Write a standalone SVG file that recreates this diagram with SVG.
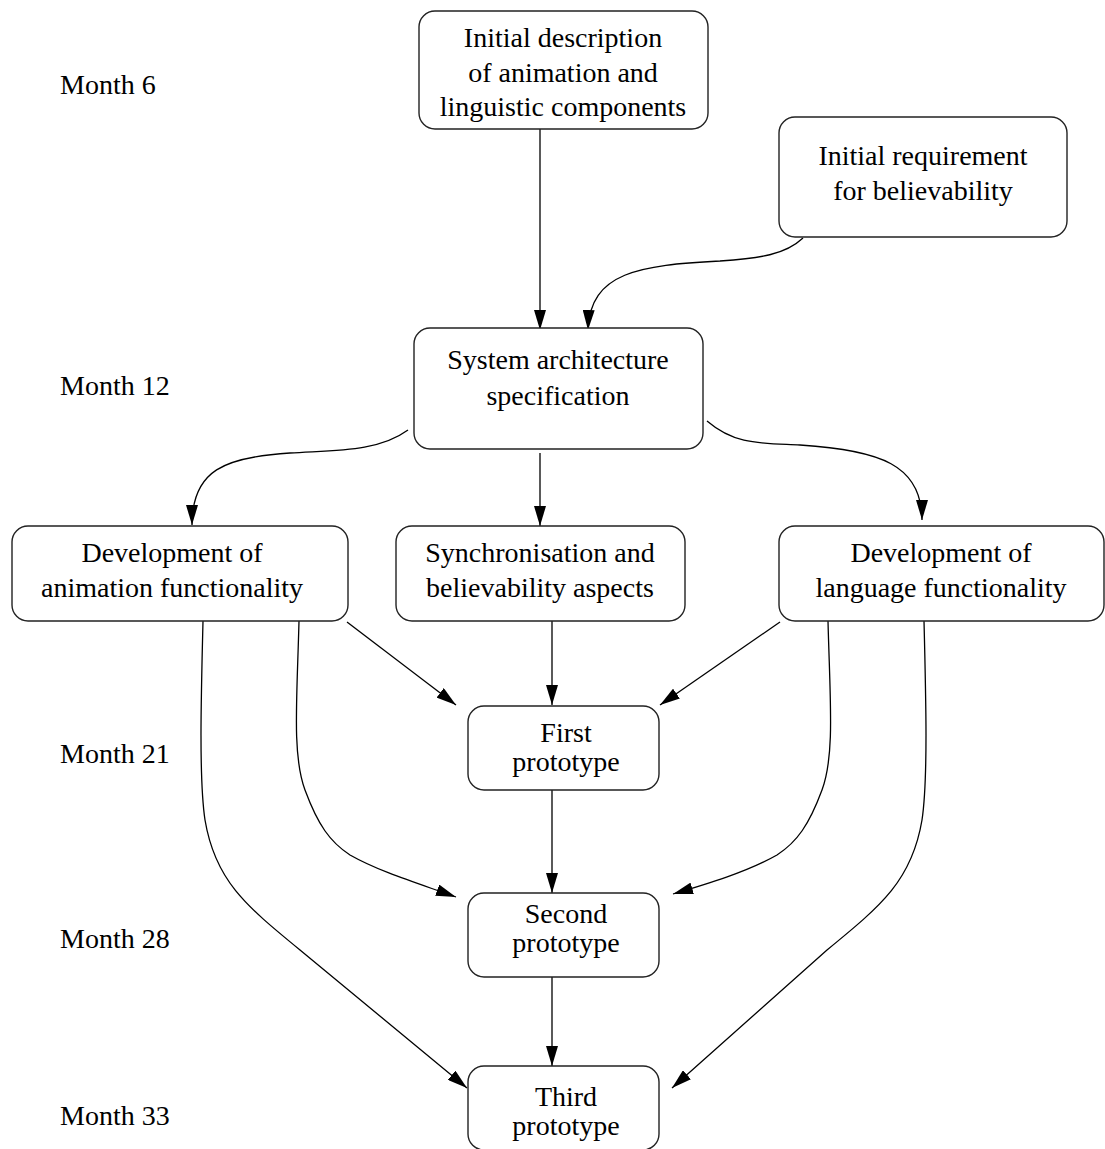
<svg xmlns="http://www.w3.org/2000/svg" width="1105" height="1149" viewBox="0 0 1105 1149">
<defs>
<marker id="ah" markerWidth="20" markerHeight="12" viewBox="0 0 20 12" refX="20" refY="6" orient="auto" markerUnits="userSpaceOnUse">
<path d="M0,0 L20,6 L0,12 Z" fill="#000"/>
</marker>
</defs>
<style>
.box{fill:#fff;stroke:#222;stroke-width:1.4}
.t{font-family:"Liberation Serif","Times New Roman",serif;font-size:28px;fill:#000;text-anchor:middle}
.m{font-family:"Liberation Serif","Times New Roman",serif;font-size:28px;fill:#000}
.c{fill:none;stroke:#000;stroke-width:1.3;marker-end:url(#ah)}
</style>
<rect width="1105" height="1149" fill="#fff"/>
<g id="months">
<text class="m" x="60" y="94">Month 6</text>
<text class="m" x="60" y="395">Month 12</text>
<text class="m" x="60" y="763">Month 21</text>
<text class="m" x="60" y="948">Month 28</text>
<text class="m" x="60" y="1125">Month 33</text>
</g>
<g id="connectors">
<path class="c" d="M540,129 L540,330"/>
<path class="c" d="M803,238 C785,255 760,258 720,261 C640,265 590,272 588,330"/>
<path class="c" d="M408,430 C378,452 335,450 290,453 C225,457 192,470 192,525"/>
<path class="c" d="M540,453 L540,526"/>
<path class="c" d="M707,421 C735,445 760,443 800,445 C880,450 922,465 922,520"/>
<path class="c" d="M347,622 L456,705"/>
<path class="c" d="M552,621 L552,705"/>
<path class="c" d="M780,622 L660,705"/>
<path class="c" d="M552,790 L552,893"/>
<path class="c" d="M299,621 C297,700 292,755 305,790 C318,825 330,842 350,855 C380,872 420,884 456,897"/>
<path class="c" d="M828,621 C830,700 835,755 822,790 C809,825 797,842 777,855 C747,872 707,884 673,894"/>
<path class="c" d="M203,621 C201,700 199,780 205,820 C215,880 245,905 300,950 L467,1088"/>
<path class="c" d="M924,621 C926,700 928,780 922,820 C912,880 882,905 827,950 L672,1088"/>
<path class="c" d="M552,977 L552,1066"/>
</g>
<g id="n1"><rect class="box" x="419" y="11" width="289" height="118" rx="16"/>
<text class="t" x="563" y="47">Initial description</text><text class="t" x="563" y="82">of animation and</text><text class="t" x="563" y="116">linguistic components</text></g>
<g id="n2"><rect class="box" x="779" y="117" width="288" height="120" rx="16"/>
<text class="t" x="923" y="165">Initial requirement</text><text class="t" x="923" y="200">for believability</text></g>
<g id="n3"><rect class="box" x="414" y="328" width="289" height="121" rx="16"/>
<text class="t" x="558" y="369">System architecture</text><text class="t" x="558" y="405">specification</text></g>
<g id="n4"><rect class="box" x="12" y="526" width="336" height="95" rx="16"/>
<text class="t" x="172" y="562">Development of</text><text class="t" x="172" y="597">animation functionality</text></g>
<g id="n5"><rect class="box" x="396" y="526" width="289" height="95" rx="16"/>
<text class="t" x="540" y="562">Synchronisation and</text><text class="t" x="540" y="597">believability aspects</text></g>
<g id="n6"><rect class="box" x="779" y="526" width="325" height="95" rx="16"/>
<text class="t" x="941" y="562">Development of</text><text class="t" x="941" y="597">language functionality</text></g>
<g id="n7"><rect class="box" x="468" y="706" width="191" height="84" rx="16"/>
<text class="t" x="566" y="742">First</text><text class="t" x="566" y="771">prototype</text></g>
<g id="n8"><rect class="box" x="468" y="893" width="191" height="84" rx="16"/>
<text class="t" x="566" y="923">Second</text><text class="t" x="566" y="952">prototype</text></g>
<g id="n9"><rect class="box" x="468" y="1066" width="191" height="84" rx="16"/>
<text class="t" x="566" y="1106">Third</text><text class="t" x="566" y="1135">prototype</text></g>
</svg>
